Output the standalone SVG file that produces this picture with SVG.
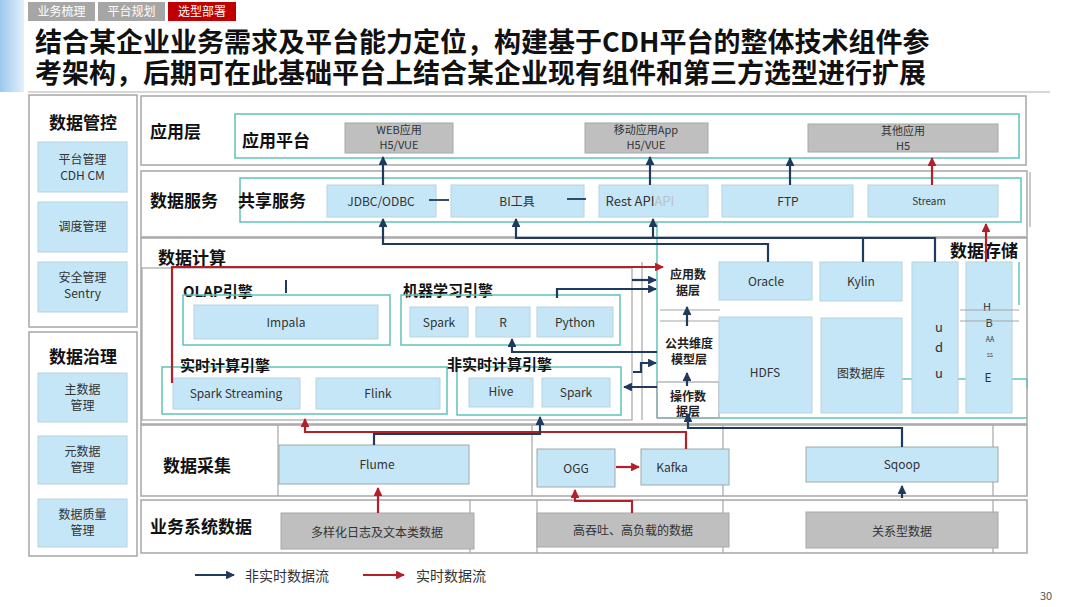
<svg xmlns="http://www.w3.org/2000/svg" width="1080" height="607" viewBox="0 0 1080 607">
<defs>
<linearGradient id="lg" x1="0" y1="0" x2="1" y2="0"><stop offset="0" stop-color="#9cc8ee"/><stop offset="1" stop-color="#e3f0fb"/></linearGradient>
<marker id="an" viewBox="0 0 10 10" refX="9" refY="5" markerWidth="4" markerHeight="4" orient="auto-start-reverse"><path d="M0,0L10,5L0,10z" fill="#1f3a5f"/></marker>
<marker id="ar" viewBox="0 0 10 10" refX="9" refY="5" markerWidth="4" markerHeight="4" orient="auto-start-reverse"><path d="M0,0L10,5L0,10z" fill="#b3202a"/></marker>
</defs>
<style>
text{font-family:"Noto Sans CJK SC","Noto Sans",sans-serif;fill:#333}
.t{font-size:12px;text-anchor:middle}
.t2{font-size:11px;text-anchor:middle}
.h{font-size:17px;font-weight:700;fill:#111}
.h2{font-size:15px;font-weight:700;fill:#111}
.s{font-size:12px;font-weight:700;fill:#222;text-anchor:middle}
.bl{fill:#c5e6f7;stroke:#b8d3e0;stroke-width:1}
.gy{fill:#bfbfbf;stroke:#a8a8a8;stroke-width:1}
.fr{fill:none;stroke:#a6a6a6;stroke-width:1.5}
.tl{fill:none;stroke:#5fc3b8;stroke-width:1.5}
.n{fill:none;stroke:#1f3a5f;stroke-width:2.2}
.r{fill:none;stroke:#b3202a;stroke-width:2.2}
.na{fill:none;stroke:#1f3a5f;stroke-width:2.2;marker-end:url(#an)}
.ra{fill:none;stroke:#b3202a;stroke-width:2.2;marker-end:url(#ar)}
.g{fill:none;stroke:#a6a6a6;stroke-width:1.2}
</style>
<rect width="1080" height="607" fill="#fff"/>
<g id="header">
<rect x="0" y="0" width="24" height="92" fill="url(#lg)"/>
<rect x="28" y="2" width="67" height="19" fill="#a6a6a6"/>
<text x="61.5" y="16" class="t" style="fill:#fff">业务梳理</text>
<rect x="98" y="2" width="67" height="19" fill="#a6a6a6"/>
<text x="131.5" y="16" class="t" style="fill:#fff">平台规划</text>
<rect x="168" y="2" width="68" height="19" fill="#c00000"/>
<text x="202" y="16" class="t" style="fill:#fff">选型部署</text>
<text x="35" y="52" style="font-size:27px;font-weight:700;fill:#111">结合某企业业务需求及平台能力定位，构建基于CDH平台的整体技术组件参</text>
<text x="35" y="83" style="font-size:27px;font-weight:700;fill:#111">考架构，后期可在此基础平台上结合某企业现有组件和第三方选型进行扩展</text>
<line x1="28" y1="92" x2="1050" y2="92" stroke="#b0b0b0" stroke-width="1.2"/>
</g>
<g id="mgmt">
<rect x="29" y="95" width="108" height="232" class="fr"/>
<text x="83" y="129" class="h" text-anchor="middle">数据管控</text>
<rect x="38" y="142" width="89" height="50" class="bl"/>
<text x="82.5" y="164" class="t">平台管理</text><text x="82.5" y="180" class="t">CDH CM</text>
<rect x="38" y="202" width="89" height="50" class="bl"/>
<text x="82.5" y="231" class="t">调度管理</text>
<rect x="38" y="262" width="89" height="50" class="bl"/>
<text x="82.5" y="282" class="t">安全管理</text><text x="82.5" y="298" class="t">Sentry</text>
</g>
<g id="governance">
<rect x="29" y="332" width="108" height="224" class="fr"/>
<text x="83" y="363" class="h" text-anchor="middle">数据治理</text>
<rect x="38" y="373" width="89" height="49" class="bl"/>
<text x="82.5" y="394" class="t">主数据</text><text x="82.5" y="410" class="t">管理</text>
<rect x="38" y="436" width="89" height="48" class="bl"/>
<text x="82.5" y="456" class="t">元数据</text><text x="82.5" y="472" class="t">管理</text>
<rect x="38" y="499" width="89" height="48" class="bl"/>
<text x="82.5" y="519" class="t">数据质量</text><text x="82.5" y="535" class="t">管理</text>
</g>
<g id="app-layer">
<rect x="141" y="96" width="885" height="69" class="fr"/>
<text x="150" y="138" class="h">应用层</text>
<rect x="235" y="114" width="784" height="44" class="tl"/>
<text x="242" y="147" class="h">应用平台</text>
<rect x="345" y="123" width="108" height="30" class="gy"/>
<text x="399" y="134" class="t2">WEB应用</text><text x="399" y="149" class="t2">H5/VUE</text>
<rect x="585" y="123" width="123" height="30" class="gy"/>
<text x="646" y="134" class="t2">移动应用App</text><text x="646" y="149" class="t2">H5/VUE</text>
<rect x="808" y="124" width="190" height="28" class="gy"/>
<text x="903" y="135" class="t2">其他应用</text><text x="903" y="150" class="t2">H5</text>
</g>
<g id="service-layer">
<rect x="141" y="171" width="886" height="66" class="fr"/>
<line x1="1030" y1="172" x2="1030" y2="227" class="g"/>
<text x="150" y="207" class="h">数据服务</text>
<rect x="240" y="178" width="781" height="44" class="tl"/>
<text x="238" y="207" class="h">共享服务</text>
<rect x="327" y="185" width="109" height="32" class="bl"/>
<text x="381" y="206" class="t">JDBC/ODBC</text>
<rect x="451" y="185" width="133" height="32" class="bl"/>
<text x="517" y="206" class="t">BI工具</text>
<rect x="599" y="185" width="109" height="32" class="bl"/>
<text x="640" y="206" class="t" style="font-size:13px">Rest API<tspan style="fill:#b8c2ca">API</tspan></text>
<rect x="722" y="185" width="131" height="32" class="bl"/>
<text x="788" y="206" class="t">FTP</text>
<rect x="868" y="185" width="130" height="32" class="bl"/>
<text x="929" y="205" class="t" style="font-size:10px">Stream</text>
<line x1="429" y1="200" x2="449" y2="200" stroke="#1f3a5f" stroke-width="1.8"/>
<line x1="567" y1="199" x2="586" y2="199" stroke="#1f3a5f" stroke-width="1.8"/>
</g>
<g id="compute-layer">
<rect x="141" y="238" width="886" height="186" class="fr"/>
<rect x="142" y="268" width="490" height="152" class="g"/>
<line x1="642" y1="262" x2="642" y2="420" class="g"/>
<text x="158" y="264" class="h">数据计算</text>
<text x="183" y="297" class="h2">OLAP引擎</text>
<rect x="183" y="295" width="207" height="50" class="tl"/>
<rect x="194" y="305" width="184" height="34" class="bl"/>
<text x="286" y="327" class="t">Impala</text>
<text x="403" y="296" class="h2">机器学习引擎</text>
<rect x="401" y="295" width="219" height="50" class="tl"/>
<rect x="410" y="307" width="58" height="30" class="bl"/>
<text x="439" y="327" class="t">Spark</text>
<rect x="476" y="307" width="54" height="30" class="bl"/>
<text x="503" y="327" class="t">R</text>
<rect x="537" y="307" width="76" height="30" class="bl"/>
<text x="575" y="327" class="t">Python</text>
<rect x="162" y="367" width="285" height="47" class="tl"/>
<text x="180" y="371" class="h2">实时计算引擎</text>
<rect x="173" y="378" width="127" height="31" class="bl"/>
<text x="236" y="398" class="t">Spark Streaming</text>
<rect x="316" y="378" width="124" height="31" class="bl"/>
<text x="378" y="398" class="t">Flink</text>
<rect x="457" y="367" width="164" height="48" class="tl"/>
<text x="447" y="370" class="h2">非实时计算引擎</text>
<rect x="469" y="378" width="64" height="29" class="bl"/>
<text x="501" y="396" class="t">Hive</text>
<rect x="542" y="378" width="68" height="29" class="bl"/>
<text x="576" y="397" class="t">Spark</text>
</g>
<g id="storage-layer">
<line x1="657" y1="222" x2="657" y2="418" class="tl"/>
<line x1="657" y1="418" x2="1027" y2="418" class="tl"/>
<line x1="900" y1="379" x2="1027" y2="379" class="tl"/>
<line x1="1019" y1="262" x2="1019" y2="305" class="tl"/>
<line x1="1027" y1="379" x2="1027" y2="388" class="tl"/>
<line x1="660" y1="310" x2="720" y2="310" class="g"/>
<line x1="660" y1="321" x2="719" y2="321" class="g"/>
<rect x="657" y="382" width="62" height="36" class="g"/>
<text x="950" y="257" class="h">数据存储</text>
<text x="688" y="279" class="s">应用数</text><text x="688" y="295" class="s">据层</text>
<text x="689" y="348" class="s">公共维度</text><text x="689" y="364" class="s">模型层</text>
<text x="688" y="401" class="s">操作数</text><text x="688" y="416" class="s">据层</text>
<rect x="719" y="262" width="93" height="38" class="bl"/>
<text x="766" y="286" class="t">Oracle</text>
<rect x="820" y="262" width="82" height="39" class="bl"/>
<text x="861" y="286" class="t">Kylin</text>
<rect x="719" y="317" width="93" height="96" class="bl"/>
<text x="765" y="377" class="t">HDFS</text>
<rect x="821" y="318" width="81" height="95" class="bl"/>
<text x="861" y="378" class="t">图数据库</text>
<rect x="912" y="262" width="46" height="151" class="bl"/>
<text x="939" y="332" class="t" style="font-size:13px">u</text>
<text x="939" y="352" class="t" style="font-size:13px">d</text>
<text x="939" y="378" class="t" style="font-size:13px">u</text>
<rect x="966" y="262" width="46" height="151" class="bl"/>
<text x="987" y="311" class="t" style="font-size:11px">H</text>
<text x="989" y="327" class="t" style="font-size:11px">B</text>
<text x="990" y="342" class="t" style="font-size:7px">AA</text>
<text x="990" y="357" class="t" style="font-size:5px">SS</text>
<text x="988" y="382" class="t" style="font-size:12px">E</text>
<line x1="960" y1="310" x2="1019" y2="310" class="g"/>
<line x1="960" y1="321" x2="1019" y2="321" class="g"/>
</g>
<g id="collect-layer">
<rect x="141" y="425" width="886" height="71" class="fr"/>
<line x1="278" y1="425" x2="278" y2="496" class="g"/>
<line x1="532" y1="425" x2="532" y2="496" class="g"/>
<line x1="723" y1="425" x2="723" y2="496" class="g"/>
<line x1="993" y1="425" x2="993" y2="496" class="g"/>
<text x="163" y="472" class="h">数据采集</text>
<rect x="279" y="445" width="190" height="39" class="bl" style="stroke:#9aa"/>
<text x="377" y="469" class="t">Flume</text>
<rect x="537" y="449" width="78" height="38" class="bl" style="stroke:#9aa"/>
<text x="576" y="473" class="t">OGG</text>
<rect x="641" y="449" width="88" height="36" class="bl" style="stroke:#9aa"/>
<text x="672" y="472" class="t">Kafka</text>
<rect x="806" y="447" width="192" height="35" class="bl" style="stroke:#9aa"/>
<text x="902" y="469" class="t">Sqoop</text>
</g>
<g id="source-layer">
<rect x="141" y="500" width="886" height="53" class="fr"/>
<line x1="470" y1="500" x2="470" y2="553" class="g"/>
<line x1="537" y1="500" x2="537" y2="553" class="g"/>
<line x1="723" y1="500" x2="723" y2="553" class="g"/>
<line x1="993" y1="500" x2="993" y2="553" class="g"/>
<text x="150" y="533" class="h">业务系统数据</text>
<rect x="281" y="513" width="193" height="36" class="gy"/>
<text x="377" y="537" class="t">多样化日志及文本类数据</text>
<rect x="537" y="513" width="192" height="34" class="gy"/>
<text x="633" y="535" class="t">高吞吐、高负载的数据</text>
<rect x="806" y="512" width="192" height="36" class="gy"/>
<text x="902" y="536" class="t">关系型数据</text>
</g>
<g id="connectors">
<path d="M383,185V157" class="na"/>
<path d="M650,185V157" class="na"/>
<path d="M790,185V158" class="na"/>
<path d="M932,185V158" class="ra"/>
<path d="M768,262V244H383V219" class="na"/>
<path d="M935,262V238H516V219" class="na"/>
<path d="M863,262V238" class="n"/>
<path d="M653,238V219" class="na"/>
<path d="M986,262V224" class="ra"/>
<path d="M172,383V267H663" class="ra"/>
<path d="M286,280V293" stroke="#1f3a5f" stroke-width="2" fill="none"/>
<path d="M557,298V289H656" class="na"/>
<path d="M632,280H656" class="na"/>
<path d="M512,339V352H657" class="na" style="marker-end:none;marker-start:url(#an)"/>
<path d="M633,372H641V363H656" class="na"/>
<path d="M657,387H624" class="na"/>
<path d="M687,326V307" class="na"/>
<path d="M687,386V373" class="na"/>
<path d="M902,447V428H688V414" class="na"/>
<path d="M686,449V432H305V419" class="ra"/>
<path d="M374,445V434H540V417" class="na"/>
<path d="M378,513V488" class="ra"/>
<path d="M616,467H639" class="ra"/>
<path d="M632,513V501H575V490" class="ra"/>
<path d="M902,498V486" class="na"/>
</g>
<g id="legend">
<path d="M195,575H234" class="na"/>
<text x="245" y="581" style="font-size:14px">非实时数据流</text>
<path d="M363,575H404" class="ra"/>
<text x="416" y="581" style="font-size:14px">实时数据流</text>
<text x="1040" y="600" style="font-size:11px;fill:#555">30</text>
</g>
</svg>
